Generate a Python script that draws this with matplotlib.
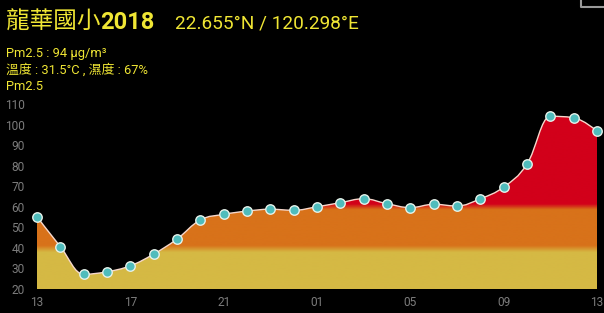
import numpy as np
import matplotlib
matplotlib.use('Agg')
import matplotlib.pyplot as plt
from matplotlib.path import Path
from matplotlib.patches import PathPatch
from matplotlib.colors import LinearSegmentedColormap

# ---- data ----
hours = ['13', '14', '15', '16', '17', '18', '19', '20', '21', '22', '23', '00',
         '01', '02', '03', '04', '05', '06', '07', '08', '09', '10', '11', '12', '13']
pm25 = [55.2, 40.6, 27.2, 28.4, 31.3, 37.0, 44.3, 53.6, 56.3, 57.9, 58.8, 58.3,
        60.0, 62.0, 63.9, 61.5, 59.6, 61.2, 60.4, 63.9, 69.6, 80.8, 104.0, 103.3, 96.9]
xtick_pos = [0, 4, 8, 12, 16, 20, 24]
xtick_labels = ['13', '17', '21', '01', '05', '09', '13']
yticks = [20, 30, 40, 50, 60, 70, 80, 90, 100, 110]

title_name = '龍華國小'
title_year = '2018'
title_coord = '22.655°N / 120.298°E'
info_lines = ['Pm2.5 : 94 μg/m³', '溫度 : 31.5°C , 濕度 : 67%', 'Pm2.5']

YELLOW = '#f0e634'
BG = '#000000'

W, H = 604, 313
fig = plt.figure(figsize=(W / 100, H / 100), dpi=100, facecolor=BG)
ax = fig.add_axes([37 / W, 24 / H, 560 / W, 185 / H])
ax.set_facecolor(BG)

x = np.arange(len(pm25), dtype=float)
y = np.array(pm25, dtype=float)


def spline_path(xs, ys, smoothing=1.5):
    n = len(xs)
    left = [None] * n
    right = [None] * n
    d = smoothing + 1
    for i in range(1, n - 1):
        px, py = xs[i - 1], ys[i - 1]
        nx, ny = xs[i + 1], ys[i + 1]
        cx, cy = xs[i], ys[i]
        lcx = (smoothing * cx + px) / d
        lcy = (smoothing * cy + py) / d
        rcx = (smoothing * cx + nx) / d
        rcy = (smoothing * cy + ny) / d
        if rcx != lcx:
            corr = ((rcy - lcy) * (rcx - cx)) / (rcx - lcx) + cy - rcy
            lcy += corr
            rcy += corr
        if lcy > py and lcy > cy:
            lcy = max(py, cy); rcy = 2 * cy - lcy
        elif lcy < py and lcy < cy:
            lcy = min(py, cy); rcy = 2 * cy - lcy
        if rcy > ny and rcy > cy:
            rcy = max(ny, cy); lcy = 2 * cy - rcy
        elif rcy < ny and rcy < cy:
            rcy = min(ny, cy); lcy = 2 * cy - rcy
        left[i] = (lcx, lcy)
        right[i] = (rcx, rcy)
    verts = [(xs[0], ys[0])]
    codes = [Path.MOVETO]
    for i in range(1, n):
        c1 = right[i - 1] if right[i - 1] is not None else (xs[i - 1], ys[i - 1])
        c2 = left[i] if left[i] is not None else (xs[i], ys[i])
        verts += [c1, c2, (xs[i], ys[i])]
        codes += [Path.CURVE4] * 3
    return verts, codes


verts, codes = spline_path(x, y)
ymin, ymax = 20, 110

# area
area_verts = verts + [(x[-1], ymin), (x[0], ymin), (x[0], ymin)]
area_codes = codes + [Path.LINETO, Path.LINETO, Path.CLOSEPOLY]
area_patch = PathPatch(Path(area_verts, area_codes), facecolor='none', edgecolor='none')
ax.add_patch(area_patch)

c_yel = '#d5b944'
c_org = '#d8721a'
c_red = '#d2001a'


def nv(v):
    return (v - ymin) / (ymax - ymin)


cmap = LinearSegmentedColormap.from_list('aq', [
    (0.0, c_yel), (nv(37.8), c_yel), (nv(41.0), c_org),
    (nv(58.6), c_org), (nv(61.4), c_red), (1.0, c_red)])
grad = np.linspace(0, 1, 600).reshape(-1, 1)
im = ax.imshow(grad, cmap=cmap, aspect='auto', origin='lower',
               extent=[x[0], x[-1], ymin, ymax], vmin=0, vmax=1, zorder=1)
im.set_clip_path(area_patch)

# line
line_patch = PathPatch(Path(verts, codes), facecolor='none', edgecolor='#f6d8cc',
                       lw=1.0, zorder=3)
ax.add_patch(line_patch)

# markers
ax.plot(x, y, linestyle='none', marker='o', markersize=6.8,
        markerfacecolor='#4fbcbc', markeredgecolor='#e6f2ea', markeredgewidth=1.0,
        zorder=4, clip_on=False)

ax.set_xlim(x[0], x[-1])
ax.set_ylim(ymin, ymax)
for s in ax.spines.values():
    s.set_visible(False)
ax.set_xticks(xtick_pos)
ax.set_xticklabels(xtick_labels)
ax.set_yticks(yticks)
ax.tick_params(axis='both', length=0, colors='#7c7c7c', labelsize=8.6)
ax.tick_params(axis='y', pad=9)
ax.tick_params(axis='x', pad=5)
for lab in ax.get_xticklabels() + ax.get_yticklabels():
    lab.set_fontfamily(['Roboto', 'DejaVu Sans'])

# title texts
fam = ['Roboto', 'Noto Sans CJK TC', 'DejaVu Sans']
fig.canvas.draw()
renderer = fig.canvas.get_renderer()
t1 = fig.text(6 / W, 1 - 29 / H, title_name, color=YELLOW, fontsize=17,
              family=['Noto Sans CJK TC'], va='baseline', ha='left')
fig.canvas.draw()
bb = t1.get_window_extent(renderer)
t2 = fig.text(bb.x1 / W, 1 - 29 / H, title_year, color=YELLOW, fontsize=17,
              fontweight='bold', family=fam, va='baseline', ha='left')
t3 = fig.text(175 / W, 1 - 29 / H, title_coord, color=YELLOW, fontsize=13.7,
              family=fam, va='baseline', ha='left')

for i, s in enumerate(info_lines):
    fig.text(6 / W, 1 - (57 + 16.3 * i) / H, s, color=YELLOW, fontsize=9.3,
             family=fam, va='baseline', ha='left')

# corner decoration (top-right)
fig.add_artist(plt.Line2D([581 / W, 581 / W, 1.0], [1.0, 1 - 7 / H, 1 - 7 / H],
                          transform=fig.transFigure, color='#9a9a9a', lw=1.5))

fig.savefig('out.png', dpi=100, facecolor=BG)
